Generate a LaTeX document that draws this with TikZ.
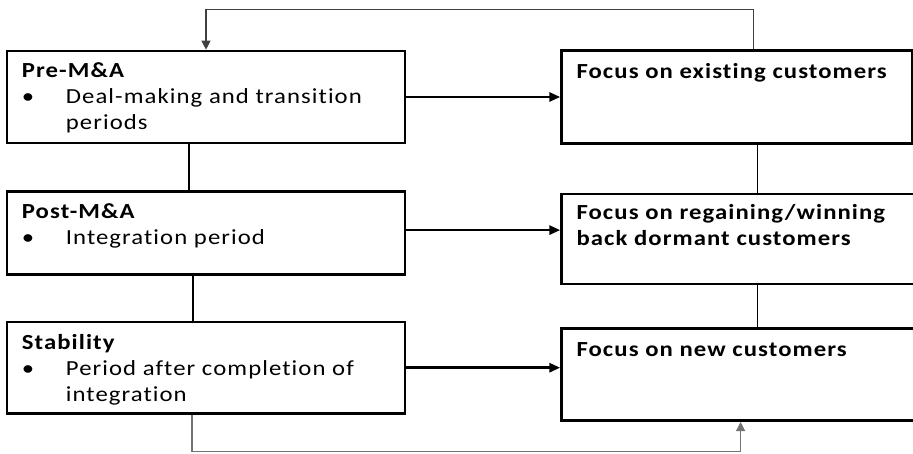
\documentclass[tikz,border=0pt]{standalone}
\usepackage{fontspec}
\setmainfont{Carlito}[LetterSpace=5, FakeStretch=1.15, Ligatures=NoCommon]
\usetikzlibrary{arrows.meta, positioning}

\newcommand{\itm}[1]{\makebox[44pt][l]{\textbullet}#1}
\newcommand{\cont}[1]{\hspace*{44pt}#1}

\begin{document}
\begin{tikzpicture}[
    x=1pt, y=-1pt,
    node distance=46pt and 154pt,
    stage/.style={rectangle, draw, line width=2.6pt, minimum width=398pt, inner sep=0pt},
    focus/.style={rectangle, draw, line width=2.6pt, minimum width=351pt, inner sep=0pt},
    txt/.style={anchor=north west, align=left, inner sep=0pt, font=\fontsize{21.5pt}{26pt}\selectfont},
    arrow/.style={-{Triangle[length=11pt, width=9pt]}, line width=2.8pt},
    link/.style={line width=1.1pt},
    feedback/.style={-{Triangle[length=9pt, width=9pt]}, line width=1.1pt, black!75},
]
\useasboundingbox (0,0) rectangle (913,454);

% Stages
\node[stage, minimum height=92pt] (pre) at (206,97) {};
\node[stage, minimum height=83pt, below=of pre] (post) {};
\node[stage, minimum height=91pt, below=45pt of post] (stab) {};

% Customer focus
\node[focus, minimum height=93pt, right=of pre] (exist) {};
\node[focus, minimum width=362pt, minimum height=90pt, below=48pt of exist.south west, anchor=north west] (regain) {};
\node[focus, minimum width=362pt, minimum height=92pt, below=42pt of regain.south west, anchor=north west] (newc) {};

% Texts
\node[txt] (preT) at ([xshift=16pt, yshift=-13pt]pre.north west) {\textbf{Pre-M\&A}\\\itm{Deal-making and transition}\\\cont{periods}};
\node[txt] (postT) at ([xshift=16pt, yshift=-13pt]post.north west) {\textbf{Post-M\&A}\\\itm{Integration period}};
\node[txt] (stabT) at ([xshift=16pt, yshift=-13pt]stab.north west) {\textbf{Stability}\\\itm{Period after completion of}\\\cont{integration}};
\node[txt] (existT) at ([xshift=16pt, yshift=-14pt]exist.north west) {\textbf{Focus on existing customers}};
\node[txt] (regainT) at ([xshift=16pt, yshift=-11pt]regain.north west) {\textbf{Focus on regaining/winning}\\\textbf{back dormant customers}};
\node[txt] (newcT) at ([xshift=16pt, yshift=-15pt]newc.north west) {\textbf{Focus on new customers}};

% Arrows
\draw[arrow] (pre) -- (exist);
\draw[arrow] ([yshift=3pt]post.east) -- ([yshift=3pt]post.east -| regain.west);
\draw[arrow] (stab) -- (stab -| newc.west);

% Links
\draw[link] ([xshift=-17pt]pre.south) -- ([xshift=-17pt]post.north);
\draw[link] ([xshift=-13pt]post.south) -- ([xshift=-13pt]stab.north);
\draw[link] ([xshift=20pt]exist.south) -- ([xshift=20pt]exist.south |- regain.north);
\draw[link] ([xshift=15pt]regain.south) -- ([xshift=15pt]newc.north);

% Feedback
\coordinate (top) at ([xshift=16pt, yshift=40pt]exist.north);
\coordinate (bottom) at ([xshift=-14pt, yshift=-37pt]stab.south);
\draw[feedback] ([xshift=16pt]exist.north) -- (top) -| (pre.north);
\draw[feedback, black!55] ([xshift=-14pt]stab.south) -- (bottom) -| ([xshift=-2pt]newc.south);

\end{tikzpicture}
\end{document}
